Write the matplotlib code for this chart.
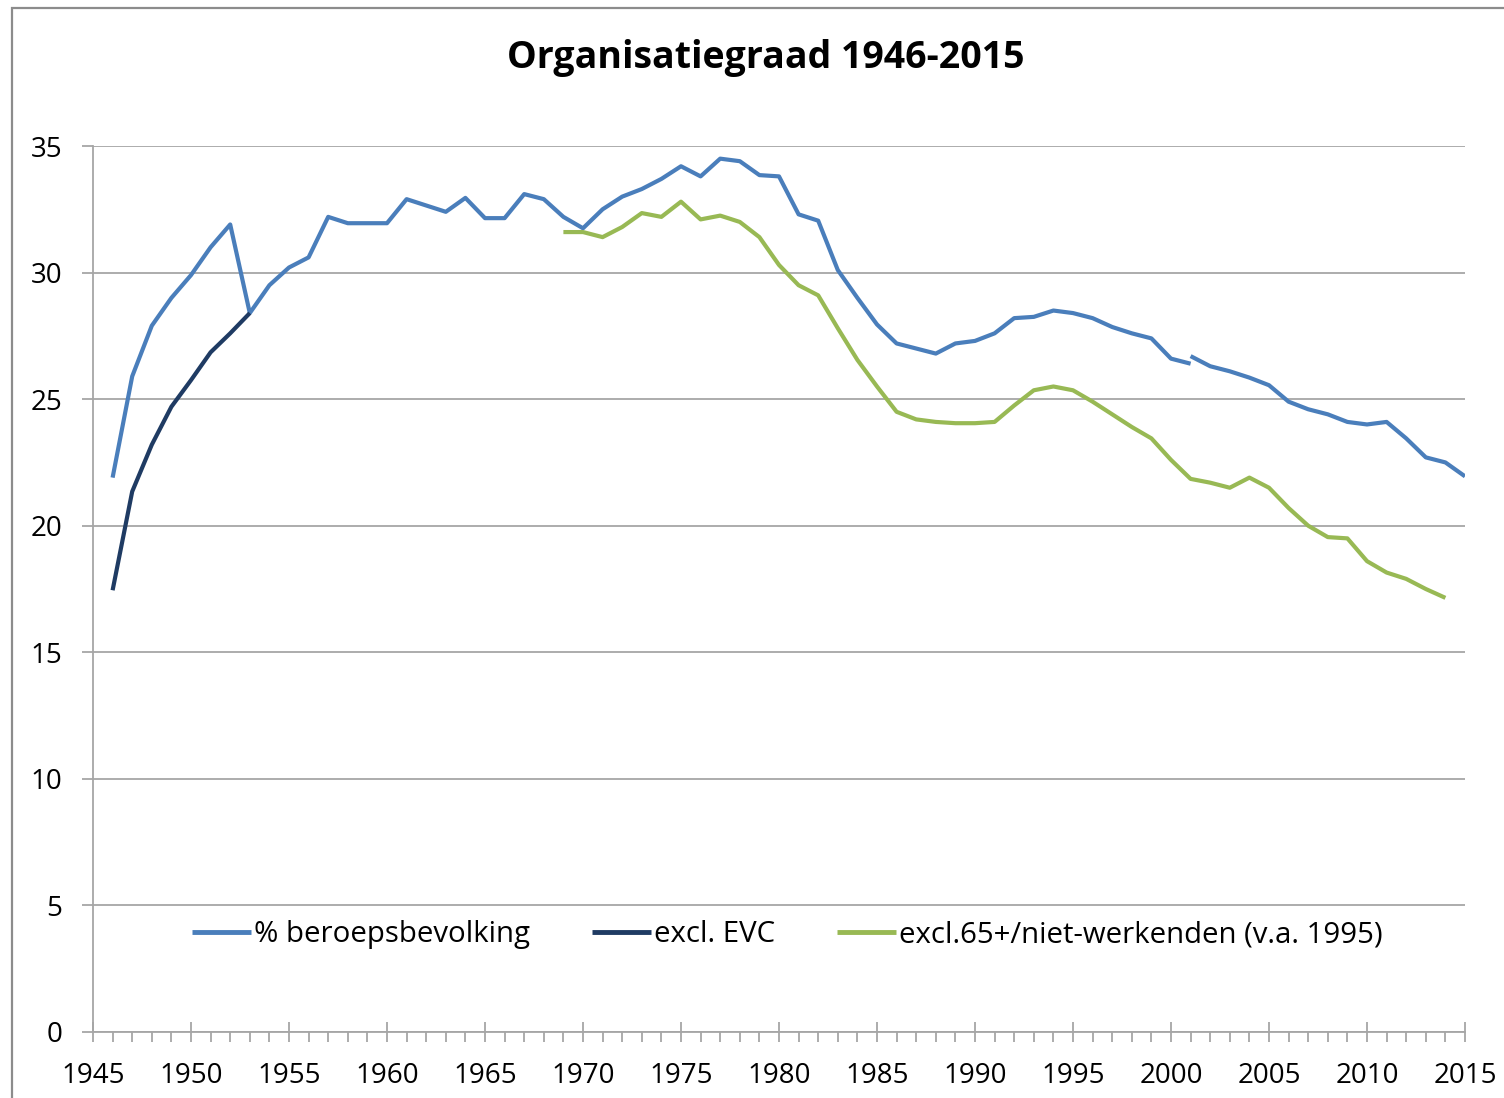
import matplotlib
matplotlib.use("Agg")
import matplotlib.pyplot as plt
from matplotlib.ticker import MultipleLocator
from matplotlib.patches import Rectangle
import numpy as np

plt.rcParams['font.family'] = ['Open Sans', 'DejaVu Sans']

title = "Organisatiegraad 1946-2015"
labels = ["% beroepsbevolking", "excl. EVC", "excl.65+/niet-werkenden (v.a. 1995)"]

years_pct = list(range(1946, 2002))
pct = [21.9, 25.9, 27.9, 29.0, 29.9, 31.0, 31.9, 28.4, 29.5, 30.2,
       30.6, 32.2, 31.95, 31.95, 31.95, 32.9, 32.65, 32.4, 32.95, 32.15,
       32.15, 33.1, 32.9, 32.2, 31.75, 32.5, 33.0, 33.3, 33.7, 34.2,
       33.8, 34.5, 34.4, 33.85, 33.8, 32.3, 32.05, 30.1, 29.0, 27.95,
       27.2, 27.0, 26.8, 27.2, 27.3, 27.6, 28.2, 28.25, 28.5, 28.4,
       28.2, 27.85, 27.6, 27.4, 26.6, 26.4]

years_pct2 = list(range(2001, 2016))
pct2 = [26.7, 26.3, 26.1, 25.85, 25.55, 24.9, 24.6, 24.4, 24.1, 24.0,
        24.1, 23.45, 22.7, 22.5, 21.95]

years_evc = list(range(1946, 1954))
evc = [17.45, 21.35, 23.2, 24.7, 25.75, 26.85, 27.6, 28.4]

years_green = list(range(1969, 2015))
green = [31.6, 31.6, 31.4, 31.8, 32.35, 32.2, 32.8, 32.1, 32.25, 32.0,
         31.4, 30.3, 29.5, 29.1, 27.8, 26.55, 25.5, 24.5, 24.2, 24.1,
         24.05, 24.05, 24.1, 24.75, 25.35, 25.5, 25.35, 24.9, 24.4, 23.9,
         23.45, 22.6, 21.85, 21.7, 21.5, 21.9, 21.5, 20.7, 20.0, 19.55,
         19.5, 18.6, 18.15, 17.9, 17.5, 17.15]

c_blue = "#4A7EBB"
c_navy = "#1F3B63"
c_green = "#98B954"
c_grid = "#A6A6A6"

fig = plt.figure(figsize=(15.04, 10.98), dpi=100)
fig.patches.append(Rectangle((12/1504, -0.1), 1.2, 1 - 8/1098 + 0.1, transform=fig.transFigure,
                             fill=False, edgecolor="#8C8C8C", linewidth=1.6, zorder=0))

ax = fig.add_axes([93/1504, 1 - 1032/1098, (1465 - 93)/1504, (1032 - 146)/1098])

lw = 3.0
l1, = ax.plot(years_pct, pct, color=c_blue, lw=lw, solid_capstyle='butt', zorder=3)
ax.plot(years_pct2, pct2, color=c_blue, lw=lw, solid_capstyle='butt', zorder=3)
l2, = ax.plot(years_evc, evc, color=c_navy, lw=lw, solid_capstyle='butt', zorder=4)
l3, = ax.plot(years_green, green, color=c_green, lw=lw, solid_capstyle='butt', zorder=3)

ax.set_xlim(1945, 2015)
ax.set_ylim(0, 35)
ax.yaxis.set_major_locator(MultipleLocator(5))
ax.xaxis.set_major_locator(MultipleLocator(5))
ax.xaxis.set_minor_locator(MultipleLocator(1))
ax.grid(axis='y', color=c_grid, lw=1.3, zorder=1)
ax.set_axisbelow(True)

for s in ['top', 'right']:
    ax.spines[s].set_visible(False)
for s in ['left', 'bottom']:
    ax.spines[s].set_color(c_grid)
    ax.spines[s].set_linewidth(1.3)

ax.tick_params(axis='y', which='major', direction='out', length=8, width=1.3,
               color=c_grid, labelsize=20, pad=14, labelcolor='black')
ax.tick_params(axis='x', which='major', direction='inout', length=15, width=1.3,
               color=c_grid, labelsize=20, pad=14, labelcolor='black')
ax.tick_params(axis='x', which='minor', direction='out', length=7.5, width=1.3,
               color=c_grid)

leg = ax.legend([l1, l2, l3], labels, loc='center', bbox_to_anchor=(0.506, 0.11),
                ncol=3, frameon=False, fontsize=21.2, handlelength=2.0,
                handletextpad=0.1, columnspacing=2.1)
for h in leg.get_lines():
    h.set_linewidth(3.5)

fig.text(0.509, 0.947, title, ha='center', va='center', fontsize=27, fontweight='bold')

fig.savefig("out.png", dpi=100, facecolor='white')
